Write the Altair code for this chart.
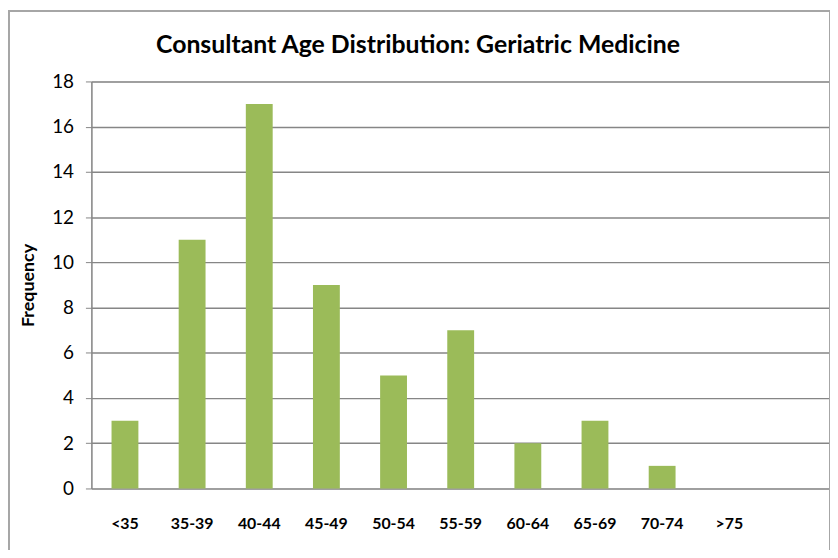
import altair as alt
import pandas as pd

categories = ["<35", "35-39", "40-44", "45-49", "50-54", "55-59", "60-64", "65-69", "70-74", ">75", " "]
frequency = [3, 11, 17, 9, 5, 7, 2, 3, 1, 0, None]
y_ticks = [0, 2, 4, 6, 8, 10, 12, 14, 16, 18]
title_text = "Consultant Age Distribution: Geriatric Medicine"

df = pd.DataFrame({"age": categories, "freq": frequency})
bars_df = df.dropna()

FONT = "Lato"
GRID = "#868686"

x_enc = alt.X("age:N", sort=categories,
              scale=alt.Scale(domain=categories, paddingInner=0.6, paddingOuter=0.3),
              axis=alt.Axis(title=None, labelAngle=0, labelFont=FONT, labelFontSize=16,
                            labelFontWeight="bold", labelColor="#000000", labelPadding=27,
                            ticks=False, domain=False, grid=False))
y_enc = alt.Y("freq:Q", scale=alt.Scale(domain=[0, 18], nice=False),
              axis=alt.Axis(title="Frequency", values=y_ticks, labelFont=FONT, labelFontSize=19,
                            labelColor="#000000", labelPadding=12, tickSize=6, tickColor=GRID,
                            domainColor=GRID, domainWidth=1.5, gridColor=GRID, gridWidth=1.5,
                            titleFont=FONT, titleFontSize=18, titleFontWeight="bold",
                            titleColor="#000000", titlePadding=14))

bars = alt.Chart(bars_df).mark_bar(color="#9BBB59").encode(x=x_enc, y=y_enc)

one = pd.DataFrame({"k": [0]})
border = alt.Chart(one).mark_rect(
    fill=None, stroke="#A6A6A6", strokeWidth=2, clip=False
).encode(x=alt.value(-83), x2=alt.value(744), y=alt.value(-71), y2=alt.value(600))

title = alt.Chart(one).mark_text(
    text=title_text, font=FONT, fontSize=25, fontWeight="bold", color="#000000",
    align="center", baseline="middle", clip=False
).encode(x=alt.value(329), y=alt.value(-37))

chart = alt.layer(border, bars, title).properties(
    width=744, height=410,
    autosize=alt.AutoSizeParams(type="none"),
    padding={"left": 84, "top": 72, "right": 0, "bottom": 60},
).configure_view(stroke=None).configure(background="white")

chart.save("out.html", embed_options={"renderer": "svg", "actions": False})
